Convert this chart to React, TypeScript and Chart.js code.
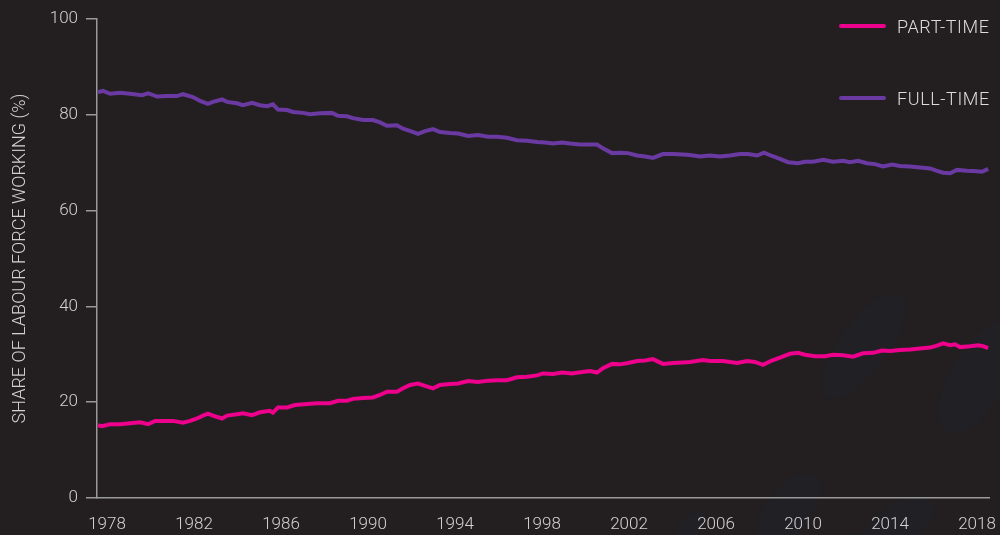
import React, { useEffect, useRef } from "react";
import { Chart, registerables } from "chart.js";

Chart.register(...registerables);

const seriesLabels = ["PART-TIME", "FULL-TIME"];
const seriesColors = ["#ec008c", "#6a3aa2"];
const xTickYears = [1978, 1982, 1986, 1990, 1994, 1998, 2002, 2006, 2010, 2014, 2018];
const yTickStep = 20;
const yTitle = "SHARE OF LABOUR FORCE WORKING (%)";

const ftYears = [
  1977.59, 1977.82, 1978.14, 1978.6, 1979.06, 1979.61, 1979.89, 1980.3, 1980.76, 1981.22,
  1981.49, 1981.95, 1982.28, 1982.64, 1982.87, 1983.29, 1983.52, 1983.98, 1984.25, 1984.67,
  1985.03, 1985.36, 1985.63, 1985.86, 1986.28, 1986.55, 1987.01, 1987.33, 1987.79, 1988.34,
  1988.62, 1989.03, 1989.31, 1989.77, 1990.23, 1990.55, 1990.87, 1991.33, 1991.61, 1992.02,
  1992.3, 1992.62, 1992.99, 1993.31, 1993.77, 1994.14, 1994.6, 1995.06, 1995.52, 1995.93,
  1996.39, 1996.85, 1997.31, 1997.77, 1998.14, 1998.51, 1998.92, 1999.29, 1999.75, 2000.11,
  2000.53, 2000.8, 2001.22, 2001.59, 2001.95, 2002.37, 2002.74, 2003.1, 2003.56, 2004.02,
  2004.48, 2004.8, 2005.26, 2005.72, 2006.18, 2006.64, 2007.1, 2007.47, 2007.89, 2008.21,
  2008.57, 2008.94, 2009.31, 2009.77, 2010.09, 2010.46, 2010.92, 2011.38, 2011.84, 2012.16,
  2012.53, 2012.94, 2013.31, 2013.68, 2014.09, 2014.46, 2014.92, 2015.38, 2015.84, 2016.16,
  2016.44, 2016.76, 2017.08, 2017.54, 2018.0, 2018.23, 2018.51,
];
const ftValues = [
  84.7, 85.0, 84.4, 84.6, 84.4, 84.1, 84.5, 83.8, 83.9, 83.9,
  84.3, 83.7, 82.9, 82.3, 82.7, 83.2, 82.7, 82.4, 82.0, 82.5,
  82.0, 81.8, 82.2, 81.1, 81.0, 80.6, 80.4, 80.1, 80.3, 80.4,
  79.8, 79.7, 79.3, 78.9, 78.9, 78.4, 77.7, 77.8, 77.1, 76.5,
  76.0, 76.6, 77.0, 76.4, 76.2, 76.1, 75.6, 75.8, 75.4, 75.4,
  75.2, 74.7, 74.6, 74.3, 74.2, 74.0, 74.2, 74.0, 73.8, 73.8,
  73.8, 73.0, 72.0, 72.1, 72.0, 71.5, 71.3, 71.0, 71.8, 71.8,
  71.7, 71.6, 71.3, 71.5, 71.3, 71.5, 71.8, 71.8, 71.5, 72.1,
  71.4, 70.8, 70.1, 69.9, 70.2, 70.2, 70.6, 70.2, 70.4, 70.1,
  70.4, 69.9, 69.7, 69.2, 69.6, 69.3, 69.2, 69.0, 68.8, 68.3,
  67.9, 67.8, 68.5, 68.3, 68.2, 68.1, 68.7,
];

const ptYears = [
  1977.59, 1977.77, 1978.14, 1978.6, 1979.06, 1979.52, 1979.89, 1980.21, 1980.57, 1981.03,
  1981.49, 1981.82, 1982.14, 1982.41, 1982.64, 1982.87, 1983.29, 1983.52, 1983.98, 1984.25,
  1984.67, 1985.03, 1985.49, 1985.63, 1985.86, 1986.28, 1986.64, 1987.2, 1987.66, 1988.25,
  1988.62, 1989.03, 1989.31, 1989.77, 1990.23, 1990.55, 1990.87, 1991.33, 1991.61, 1991.93,
  1992.3, 1992.62, 1992.99, 1993.31, 1993.77, 1994.14, 1994.6, 1995.06, 1995.52, 1995.93,
  1996.39, 1996.85, 1997.31, 1997.77, 1998.05, 1998.51, 1998.92, 1999.38, 1999.84, 2000.21,
  2000.53, 2000.8, 2001.22, 2001.59, 2001.95, 2002.37, 2002.74, 2003.1, 2003.56, 2004.02,
  2004.48, 2004.8, 2005.4, 2005.72, 2006.32, 2006.97, 2007.43, 2007.79, 2008.16, 2008.57,
  2008.94, 2009.4, 2009.77, 2010.09, 2010.55, 2011.01, 2011.38, 2011.84, 2012.3, 2012.76,
  2013.22, 2013.63, 2014.0, 2014.46, 2014.92, 2015.38, 2015.84, 2016.16, 2016.44, 2016.76,
  2016.99, 2017.22, 2017.68, 2018.05, 2018.28, 2018.51,
];
const ptValues = [
  15.2, 15.0, 15.4, 15.4, 15.6, 15.8, 15.4, 16.1, 16.1, 16.1,
  15.7, 16.1, 16.6, 17.2, 17.6, 17.2, 16.6, 17.2, 17.5, 17.7,
  17.3, 17.9, 18.2, 17.8, 18.9, 18.9, 19.4, 19.6, 19.8, 19.8,
  20.3, 20.3, 20.7, 20.9, 21.0, 21.5, 22.2, 22.2, 22.9, 23.6,
  23.9, 23.4, 22.9, 23.6, 23.8, 23.9, 24.4, 24.2, 24.5, 24.6,
  24.6, 25.2, 25.3, 25.6, 26.0, 25.9, 26.2, 26.0, 26.3, 26.5,
  26.2, 27.1, 28.0, 27.9, 28.2, 28.6, 28.7, 29.0, 28.0, 28.2,
  28.3, 28.4, 28.8, 28.6, 28.6, 28.2, 28.6, 28.4, 27.8, 28.7,
  29.3, 30.1, 30.3, 29.9, 29.6, 29.6, 29.9, 29.8, 29.5, 30.2,
  30.3, 30.8, 30.7, 30.9, 31.0, 31.2, 31.4, 31.8, 32.3, 31.9,
  32.1, 31.5, 31.7, 31.9, 31.7, 31.3,
];

const FONT = "Roboto, 'Noto Sans', sans-serif";
const BG = "#231f20";

const backgroundPlugin = {
  id: "bgDecor",
  beforeDraw(chart: any) {
    const ctx = chart.ctx;
    ctx.save();
    ctx.fillStyle = BG;
    ctx.fillRect(0, 0, chart.width, chart.height);
    ctx.fillStyle = "#212024";
    const blobs = [
      [864, 346, 62, 24, -0.95],
      [978, 378, 62, 28, -1.05],
      [788, 512, 45, 22, -0.95],
      [892, 532, 50, 22, -0.7],
      [690, 528, 20, 10, -0.9],
    ];
    blobs.forEach(([x, y, a, b, r]) => {
      ctx.beginPath();
      ctx.ellipse(x, y, a, b, r, 0, Math.PI * 2);
      ctx.fill();
    });
    ctx.restore();
  },
};

export default function App() {
  const ref = useRef<HTMLCanvasElement | null>(null);

  useEffect(() => {
    document.body.style.margin = "0";
    const canvas = ref.current;
    if (!canvas) return;
    const chart = new Chart(canvas, {
      type: "line",
      data: {
        datasets: [
          {
            label: seriesLabels[0],
            data: ptYears.map((x, i) => ({ x, y: ptValues[i] })),
            borderColor: seriesColors[0],
            borderWidth: 4,
            pointRadius: 0,
            tension: 0,
            fill: false,
          },
          {
            label: seriesLabels[1],
            data: ftYears.map((x, i) => ({ x, y: ftValues[i] })),
            borderColor: seriesColors[1],
            borderWidth: 4,
            pointRadius: 0,
            tension: 0,
            fill: false,
          },
        ],
      },
      options: {
        animation: false,
        responsive: false,
        maintainAspectRatio: false,
        layout: { padding: { top: 19, right: 11, left: 0, bottom: 0 } },
        plugins: { legend: { display: false }, tooltip: { enabled: false } },
        scales: {
          x: {
            type: "linear",
            min: 1977.54,
            max: 2018.55,
            afterBuildTicks: (s: any) => {
              s.ticks = xTickYears.map((v) => ({ value: v }));
            },
            afterFit: (s: any) => {
              s.height = 37;
              s.paddingLeft = 0;
              s.paddingRight = 0;
            },
            ticks: {
              autoSkip: false,
              maxRotation: 0,
              color: "#d2d2d2",
              font: { family: FONT, size: 17, weight: "300" },
              padding: 17,
              callback: (v: any) => String(v),
            },
            grid: { display: true, drawOnChartArea: false, drawTicks: false },
            border: { display: true, color: "#9a9a9a", width: 1.5 },
          },
          y: {
            min: 0,
            max: 100,
            afterFit: (s: any) => {
              s.width = 97;
              s.paddingTop = 0;
              s.paddingBottom = 0;
            },
            ticks: {
              stepSize: yTickStep,
              color: "#d2d2d2",
              font: { family: FONT, size: 17, weight: "300" },
              padding: 8,
            },
            grid: {
              display: true,
              drawOnChartArea: false,
              drawTicks: true,
              tickLength: 11,
              color: "#9a9a9a",
              lineWidth: 1.5,
            },
            border: { display: true, color: "#9a9a9a", width: 1.5 },
            title: {
              display: true,
              text: yTitle,
              color: "#d2d2d2",
              font: { family: FONT, size: 18, weight: "300" },
              padding: { top: 10, bottom: 0 },
            },
          },
        },
      },
      plugins: [backgroundPlugin],
    } as any);
    return () => chart.destroy();
  }, []);

  const legendTops = [26, 98];

  return (
    <div
      style={{
        position: "fixed",
        left: 0,
        top: 0,
        width: 1000,
        height: 535,
        background: BG,
        overflow: "hidden",
      }}
    >
      <canvas ref={ref} width={1000} height={535} style={{ display: "block" }} />
      {seriesLabels.map((label, i) => (
        <div
          key={label}
          style={{
            position: "absolute",
            left: 839,
            top: legendTops[i] - 12,
            height: 24,
            display: "flex",
            alignItems: "center",
            fontFamily: FONT,
            fontWeight: 300,
            fontSize: 18,
            letterSpacing: "0.6px",
            color: "#dcdcdc",
            whiteSpace: "nowrap",
          }}
        >
          <span
            style={{
              display: "inline-block",
              width: 47,
              height: 4,
              borderRadius: 2,
              background: seriesColors[i],
              marginRight: 11,
            }}
          />
          <span>{label}</span>
        </div>
      ))}
    </div>
  );
}
